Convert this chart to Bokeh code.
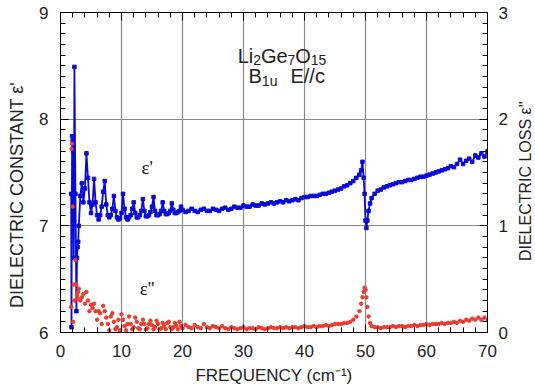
from bokeh.plotting import figure
from bokeh.models import Range1d, LinearAxis, SingleIntervalTicker, Label
from bokeh.layouts import row
from bokeh.embed import file_html
from bokeh.resources import INLINE
import math

# ---- data ----
freq = [1.75, 1.80, 1.90, 2.00, 2.08, 2.17, 2.28, 2.45, 2.61, 2.70, 2.80, 2.90,
        3.00, 3.25, 3.50, 3.75, 4.00, 4.25, 4.50, 4.75, 5.00, 5.25, 5.50, 5.75,
        6.00, 6.25, 6.50, 6.75, 7.00, 7.25, 7.50, 7.75, 8.00, 8.25, 8.50, 8.75,
        9.00, 9.25, 9.50, 9.75, 10.00, 10.25, 10.50, 10.75, 11.00, 11.25, 11.50, 11.75,
        12.00, 12.25, 12.50, 12.75, 13.00, 13.25, 13.50, 13.75, 14.00, 14.25, 14.50, 14.75,
        15.00, 15.25, 15.50, 15.75, 16.00, 16.25, 16.50, 16.75, 17.00, 17.25, 17.50, 17.75,
        18.00, 18.25, 18.50, 18.75, 19.00, 19.25, 19.50, 19.75, 20.00,
        20.5, 21.0, 21.5, 22.0, 22.5, 23.0, 23.5, 24.0, 24.5, 25.0, 25.5, 26.0, 26.5,
        27.0, 27.5, 28.0, 28.5, 29.0, 29.5, 30.0, 30.5, 31.0, 31.5, 32.0, 32.5, 33.0,
        33.5, 34.0, 34.5, 35.0, 35.5, 36.0, 36.5, 37.0, 37.5, 38.0, 38.5, 39.0, 39.5,
        40.0, 40.5, 41.0, 41.5, 42.0, 42.5, 43.0, 43.5, 44.0, 44.5, 45.0, 45.5, 46.0,
        46.5, 47.0, 47.5, 48.0, 48.5, 49.0, 49.3, 49.5, 49.7, 49.85, 50.0, 50.15, 50.3,
        50.5, 50.75, 51.0, 51.5, 52.0, 52.5, 53.0, 53.5, 54.0, 54.5, 55.0, 55.5, 56.0,
        56.5, 57.0, 57.5, 58.0, 58.5, 59.0, 59.5, 60.0, 60.5, 61.0, 61.5, 62.0, 62.5,
        63.0, 63.5, 64.0, 64.5, 65.0, 65.5, 66.0, 66.5, 67.0, 67.5, 68.0, 68.5, 69.0,
        69.5, 70.0]

eps_real = [7.30, 6.05, 7.84, 7.80, 7.70, 6.70, 8.49, 7.30, 6.20, 6.70, 6.80, 6.85,
            7.00, 7.28, 7.40, 7.22, 7.35, 7.68, 7.45, 7.22, 7.12, 7.20, 7.44, 7.22,
            7.10, 7.06, 7.10, 7.18, 7.32, 7.42, 7.20, 7.10, 7.08, 7.10, 7.16, 7.28,
            7.14, 7.08, 7.06, 7.07, 7.12, 7.30, 7.16, 7.08, 7.06, 7.08, 7.10, 7.16,
            7.22, 7.12, 7.08, 7.08, 7.10, 7.14, 7.25, 7.14, 7.09, 7.09, 7.10, 7.13,
            7.18, 7.27, 7.14, 7.10, 7.10, 7.11, 7.14, 7.22, 7.14, 7.11, 7.11, 7.12,
            7.14, 7.21, 7.15, 7.12, 7.12, 7.13, 7.14, 7.18, 7.15,
            7.13, 7.14, 7.16, 7.14, 7.13, 7.15, 7.16, 7.14, 7.14, 7.16, 7.15, 7.14, 7.16,
            7.17, 7.15, 7.16, 7.18, 7.17, 7.17, 7.19, 7.18, 7.18, 7.20, 7.19, 7.19, 7.21,
            7.20, 7.21, 7.22, 7.21, 7.22, 7.23, 7.22, 7.24, 7.23, 7.24, 7.25, 7.24, 7.26,
            7.27, 7.27, 7.28, 7.28, 7.28, 7.29, 7.30, 7.30, 7.31, 7.32, 7.33, 7.34, 7.35,
            7.37, 7.38, 7.40, 7.42, 7.45, 7.48, 7.52, 7.60, 7.45, 7.30, 7.05, 6.98, 7.05,
            7.14, 7.21, 7.26, 7.30, 7.33, 7.34, 7.36, 7.37, 7.38, 7.39, 7.40, 7.41, 7.41,
            7.42, 7.43, 7.43, 7.44, 7.45, 7.46, 7.46, 7.47, 7.48, 7.49, 7.50, 7.51, 7.52,
            7.53, 7.54, 7.56, 7.55, 7.58, 7.62, 7.58, 7.61, 7.63, 7.60, 7.66, 7.64, 7.68,
            7.65, 7.70]

eps_loss = [0.24, 1.72, 1.77, 1.18, 0.10, 0.45, 0.30, 0.68, 0.45, 0.35, 0.32, 0.38,
            0.41, 0.30, 0.33, 0.36, 0.27, 0.38, 0.30, 0.20, 0.26, 0.23, 0.27, 0.20,
            0.12, 0.20, 0.18, 0.08, 0.25, 0.20, 0.14, 0.08, 0.02, 0.15, 0.18, 0.10,
            0.03, 0.05, 0.12, 0.02, 0.17, 0.12, 0.06, 0.02, 0.08, 0.15, 0.08, 0.03,
            0.05, 0.14, 0.10, 0.04, 0.03, 0.08, 0.12, 0.08, 0.03, 0.04, 0.08, 0.11,
            0.07, 0.03, 0.05, 0.11, 0.08, 0.03, 0.04, 0.09, 0.06, 0.03, 0.09, 0.10,
            0.05, 0.03, 0.05, 0.09, 0.06, 0.03, 0.10, 0.06, 0.04,
            0.07, 0.05, 0.04, 0.07, 0.05, 0.04, 0.08, 0.05, 0.04, 0.06, 0.05, 0.04, 0.06,
            0.04, 0.03, 0.05, 0.04, 0.03, 0.04, 0.05, 0.03, 0.04, 0.04, 0.03, 0.05, 0.04,
            0.03, 0.04, 0.05, 0.04, 0.04, 0.05, 0.04, 0.05, 0.04, 0.05, 0.05, 0.04, 0.05,
            0.06, 0.05, 0.05, 0.06, 0.05, 0.06, 0.06, 0.07, 0.06, 0.07, 0.08, 0.08, 0.08,
            0.09, 0.09, 0.10, 0.12, 0.15, 0.20, 0.27, 0.33, 0.38, 0.42, 0.40, 0.33, 0.24,
            0.15, 0.09, 0.06, 0.05, 0.05, 0.04, 0.05, 0.05, 0.05, 0.06, 0.05, 0.06, 0.06,
            0.05, 0.06, 0.06, 0.07, 0.06, 0.07, 0.07, 0.08, 0.07, 0.08, 0.08, 0.08, 0.09,
            0.08, 0.09, 0.09, 0.10, 0.09, 0.11, 0.10, 0.12, 0.11, 0.13, 0.12, 0.14, 0.12,
            0.14, 0.12]

x_ticks_interval = 10
y_ticks_interval = 1

FONT = "Liberation Sans"
BLUE = "#0a0ad8"
RED = "#ee3a2c"
TXT = "#222222"

p = figure(width=510, height=389, x_range=Range1d(0, 70), y_range=Range1d(6, 9),
           output_backend="svg", toolbar_location=None,
           min_border_left=60, min_border_right=21, min_border_top=12, min_border_bottom=57)
p.extra_y_ranges = {"loss": Range1d(0, 3)}

p.line(freq, eps_real, line_color=BLUE, line_width=1.8)
p.scatter(freq, eps_real, marker="square", size=3.5, color=BLUE)
p.scatter(freq, eps_loss, marker="circle", size=3.5, color=RED, y_range_name="loss")

xt = SingleIntervalTicker(interval=x_ticks_interval, num_minor_ticks=5)
yt = SingleIntervalTicker(interval=y_ticks_interval, num_minor_ticks=10)

bottom = p.below[0]
left = p.left[0]
bottom.ticker = xt
left.ticker = yt
p.xgrid.ticker = xt
p.ygrid.ticker = yt
for g in (p.xgrid, p.ygrid):
    g.grid_line_color = "#8a8a8a"
    g.grid_line_width = 1.2

right = LinearAxis(y_range_name="loss", ticker=SingleIntervalTicker(interval=1, num_minor_ticks=10))
p.add_layout(right, "right")
top = LinearAxis(ticker=SingleIntervalTicker(interval=10, num_minor_ticks=5))
p.add_layout(top, "above")

for ax in (bottom, left, right, top):
    ax.major_tick_in = 8
    ax.major_tick_out = 0
    ax.minor_tick_in = 5
    ax.minor_tick_out = 0
    ax.axis_line_color = "black"
    ax.major_tick_line_color = "black"
    ax.minor_tick_line_color = "black"
    ax.major_label_text_font = FONT
    ax.major_label_text_font_size = "17px"
    ax.major_label_text_color = TXT
    ax.major_label_standoff = 12
    ax.axis_label_text_font = FONT
    ax.axis_label_text_font_style = "normal"
    ax.axis_label_text_color = TXT

right.major_label_standoff = 11
top.major_label_overrides = {v: "" for v in range(0, 80, 10)}
top.major_label_standoff = 0

bottom.axis_label = "FREQUENCY (cm\u207b\u00b9)"
bottom.axis_label_text_font_size = "17px"
bottom.axis_label_standoff = 6

left.axis_label = "DIELECTRIC CONSTANT \u03b5'" + "\u00a0" * 9
left.axis_label_text_font_size = "18px"
left.axis_label_standoff = 9

p.outline_line_color = "black"
p.outline_line_width = 1

# curve labels
p.add_layout(Label(x=14.2, y=7.55, text="\u03b5'", text_font="Liberation Serif",
                   text_font_size="19px", text_align="center", text_baseline="middle",
                   text_color=TXT))
p.add_layout(Label(x=14.2, y=6.41, text="\u03b5''", text_font="Liberation Serif",
                   text_font_size="19px", text_align="center", text_baseline="middle",
                   text_color=TXT))

def px2x(px):
    return (px - 60) / (429 / 70)

def py2y(py):
    return 6 + (332 - py) / (320 / 3)

pieces = [("Li", 238, 55, "20px"), ("2", 253.6, 59, "14px"), ("Ge", 261.4, 55, "20px"),
          ("7", 288.1, 59, "14px"), ("O", 295.9, 55, "20px"), ("15", 311.5, 59, "14px"),
          ("B", 249, 75, "20px"), ("1u", 262.3, 80, "14px"), ("E//c", 291, 75, "20px")]
for t, px, py, fs in pieces:
    p.add_layout(Label(x=px2x(px), y=py2y(py), text=t, text_font=FONT, text_font_size=fs,
                       text_align="left", text_baseline="alphabetic", text_color=TXT))

# right-hand title strip (reads bottom-to-top like the reference)
side = figure(width=25, height=389, x_range=Range1d(0, 25), y_range=Range1d(0, 389),
              output_backend="svg", toolbar_location=None,
              x_axis_location=None, y_axis_location=None, min_border=0)
side.outline_line_color = None
side.grid.visible = False
side.add_layout(Label(x=15, y=389 - 205, text="DIELECTRIC LOSS \u03b5''", angle=math.pi / 2,
                      text_font=FONT, text_font_size="16px", text_align="center",
                      text_baseline="middle", text_color=TXT))

layout = row(p, side, spacing=0)
open("out.html", "w").write(file_html(layout, INLINE))
